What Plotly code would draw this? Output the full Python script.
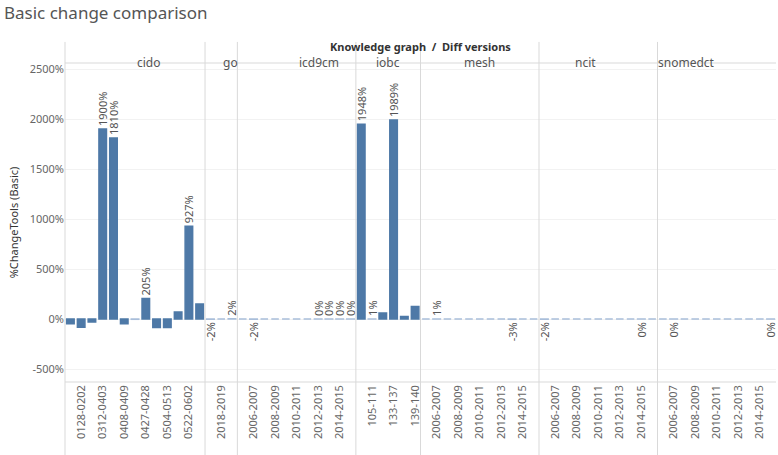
import plotly.graph_objects as go
from plotly.subplots import make_subplots

# Knowledge graphs (panels) and their diff versions
graphs = ["cido", "go", "icd9cm", "iobc", "mesh", "ncit", "snomedct"]

years = ["2005-2006", "2006-2007", "2007-2008", "2008-2009", "2009-2010", "2010-2011",
         "2011-2012", "2012-2013", "2013-2014", "2014-2015", "2015-2016"]
year_ticks = ["2006-2007", "2008-2009", "2010-2011", "2012-2013", "2014-2015"]

cido_versions = ["0120-0128", "0128-0202", "0202-0312", "0312-0403", "0403-0408", "0408-0409",
                 "0409-0427", "0427-0428", "0428-0504", "0504-0513", "0513-0522", "0522-0602", "0602-0609"]
cido_ticks = ["0128-0202", "0312-0403", "0408-0409", "0427-0428", "0504-0513", "0522-0602"]
cido_values = [-47, -83, -30, 1900, 1810, -47, -3, 205, -85, -85, 70, 927, 150]
cido_labels = ["", "", "", "1900%", "1810%", "", "", "205%", "", "", "", "927%", ""]

go_versions = ["2017-2018", "2018-2019", "2019-2020"]
go_ticks = ["2018-2019"]
go_values = [-2, 0, 2]
go_labels = ["-2%", "", "2%"]

icd9cm_values = [0, -2, 0, 0, 0, 0, 0, 0.2, 0.2, 0.2, 0.2]
icd9cm_labels = ["", "-2%", "", "", "", "", "", "0%", "0%", "0%", "0%"]

iobc_versions = ["104-105", "105-111", "111-133", "133-137", "137-139", "139-140"]
iobc_ticks = ["105-111", "133-137", "139-140"]
iobc_values = [1948, 1, 60, 1989, 25, 125]
iobc_labels = ["1948%", "1%", "", "1989%", "", ""]

mesh_values = [0, 1, 0, 0, 0, 0, 0, 0, -3, 0, 0]
mesh_labels = ["", "1%", "", "", "", "", "", "", "-3%", "", ""]

ncit_values = [-2, 0, 0, 0, 0, 0, 0, 0, 0, -0.3, 0]
ncit_labels = ["-2%", "", "", "", "", "", "", "", "", "0%", ""]

snomedct_values = [0, -0.3, 0, 0, 0, 0, 0, 0, 0, 0, -0.3]
snomedct_labels = ["", "0%", "", "", "", "", "", "", "", "", "0%"]

y_ticks = [-500, 0, 500, 1000, 1500, 2000, 2500]
y_ticktext = ["-500%", "0%", "500%", "1000%", "1500%", "2000%", "2500%"]

panels = [
    (cido_versions, cido_ticks, cido_values, cido_labels),
    (go_versions, go_ticks, go_values, go_labels),
    (years, year_ticks, icd9cm_values, icd9cm_labels),
    (iobc_versions, iobc_ticks, iobc_values, iobc_labels),
    (years, year_ticks, mesh_values, mesh_labels),
    (years, year_ticks, ncit_values, ncit_labels),
    (years, year_ticks, snomedct_values, snomedct_labels),
]

BAR = "#4E79A7"
THIN = "#A9BEDA"
GRID = "#D9D9D9"
FONT = "Noto Sans"

fig = make_subplots(rows=1, cols=len(panels), shared_yaxes=True, horizontal_spacing=0,
                    column_widths=[len(p[0]) for p in panels])

for i, (cats, ticks, vals, labels) in enumerate(panels):
    col = i + 1
    fig.add_trace(go.Bar(
        x=cats, y=vals, text=labels,
        width=0.7,
        marker=dict(color=BAR,
                    line=dict(width=1.5, color=[THIN if abs(v) < 5 else BAR for v in vals])),
        textposition="outside", textangle=-90, constraintext="none", cliponaxis=False,
        textfont=dict(size=11, color="#555555", family=FONT),
        showlegend=False, hoverinfo="x+y",
    ), row=1, col=col)
    fig.update_xaxes(type="category", categoryorder="array", categoryarray=cats,
                     tickmode="array", tickvals=ticks, ticktext=ticks,
                     tickangle=-90, range=[-0.5, len(cats) - 0.5],
                     showgrid=False, zeroline=False, showline=False, ticks="",
                     automargin=False,
                     tickfont=dict(size=11, color="#666666", family=FONT),
                     row=1, col=col)

fig.update_yaxes(range=[-630, 2560], tickmode="array", tickvals=y_ticks, ticktext=y_ticktext,
                 showgrid=True, gridcolor="#F2F2F2", zeroline=False, automargin=False,
                 tickfont=dict(size=11, color="#666666", family=FONT), ticks="")
fig.update_yaxes(title=dict(text="%ChangeTools (Basic)", font=dict(size=11, color="#333333", family=FONT),
                            standoff=8), row=1, col=1)

# Panel separators and headers
shapes = []
annotations = []
y_top, y_bot = 1.066, -0.229
for i, name in enumerate(graphs):
    axis = fig.layout["xaxis" if i == 0 else f"xaxis{i + 1}"]
    d0, d1 = axis.domain
    shapes.append(dict(type="line", xref="paper", yref="paper", x0=d0, x1=d0, y0=y_bot, y1=y_top,
                       line=dict(color=GRID, width=1)))
    annotations.append(dict(text=name, xref="paper", yref="paper", x=(d0 + d1) / 2, y=1.034,
                            showarrow=False, font=dict(size=12, color="#555555", family=FONT)))
shapes.append(dict(type="line", xref="paper", yref="paper", x0=0, x1=1, y0=1, y1=1,
                   line=dict(color=GRID, width=1)))
shapes.append(dict(type="line", xref="paper", yref="paper", x0=0, x1=1, y0=0, y1=0,
                   line=dict(color=GRID, width=1)))
annotations.append(dict(text="<b>Knowledge graph  /  Diff versions</b>", xref="paper", yref="paper",
                        x=0.5, y=1.081, showarrow=False,
                        font=dict(size=11, color="#333333", family=FONT)))
annotations.append(dict(text="Basic change comparison", xref="paper", yref="paper",
                        x=-0.089, y=1.2, xanchor="left", showarrow=False,
                        font=dict(size=17, color="#555555", family=FONT)))

fig.update_layout(
    width=778, height=455,
    margin=dict(l=65, r=2, t=63, b=73),
    plot_bgcolor="white", paper_bgcolor="white",
    shapes=shapes, annotations=annotations,
    bargap=0.3,
    font=dict(family=FONT),
)

# page body margin would otherwise push the figure 8px off
fig.write_html("out.html", config={"displayModeBar": False},
               post_script="document.body.style.margin = '0';")
